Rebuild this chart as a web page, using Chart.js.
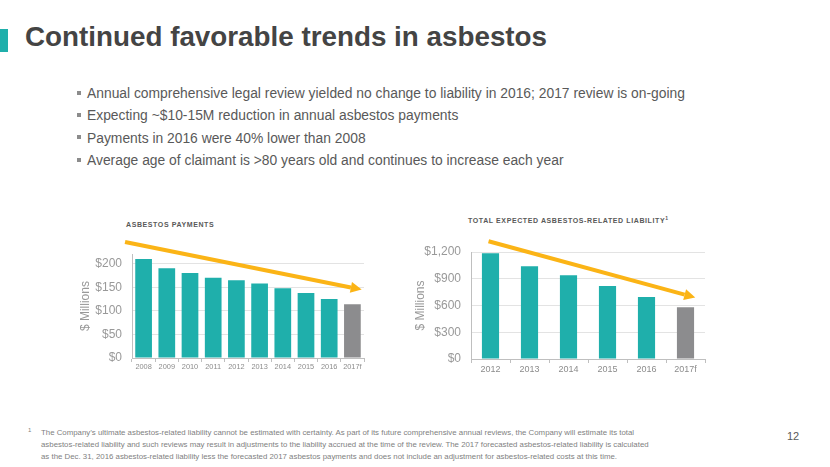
<!DOCTYPE html>
<html lang="en">
  <head>
    <meta charset="UTF-8" />
    <title>Continued favorable trends in asbestos</title>
    <script src="https://cdn.jsdelivr.net/npm/chart.js@4.4.1/dist/chart.umd.min.js"></script>
    <style>
      body {
        margin: 0;
        width: 830px;
        height: 467px;
        position: relative;
        overflow: hidden;
        background: #fff;
        font-family: 'Liberation Sans', Arial, sans-serif;
      }
      #accent {
        position: absolute;
        left: 0;
        top: 29px;
        width: 8px;
        height: 23px;
        background: #1fafab;
      }
      h1 {
        position: absolute;
        left: 25px;
        top: 21px;
        margin: 0;
        font-size: 27.8px;
        font-weight: bold;
        color: #444;
      }
      ul {
        position: absolute;
        left: 77px;
        top: 84px;
        margin: 0;
        padding: 0;
        list-style: none;
        font-size: 13.85px;
        color: #595959;
      }
      ul li {
        height: 22.3px;
        line-height: 18px;
      }
      ul li::before {
        content: '';
        display: inline-block;
        width: 4px;
        height: 4px;
        margin: 0 6px 3px 0;
        vertical-align: middle;
        background: #8c8c8c;
      }
      .ctitle {
        position: absolute;
        font-size: 7px;
        font-weight: bold;
        letter-spacing: 0.6px;
        color: #595959;
      }
      .box {
        position: absolute;
      }
      #footnote {
        position: absolute;
        left: 28px;
        top: 427px;
        white-space: nowrap;
        font-size: 7.85px;
        line-height: 12px;
        color: #7f7f7f;
        padding-left: 13px;
      }
      #footnote sup {
        position: absolute;
        left: 0;
        top: -3px;
        font-size: 6px;
      }
      #page {
        position: absolute;
        left: 787px;
        top: 430px;
        font-size: 11px;
        color: #595959;
      }
    </style>
  </head>
  <body>
    <div id="accent"></div>
    <h1>Continued favorable trends in asbestos</h1>
    <ul>
      <li>Annual comprehensive legal review yielded no change to liability in 2016; 2017 review is on-going</li>
      <li>Expecting ~$10-15M reduction in annual asbestos payments</li>
      <li>Payments in 2016 were 40% lower than 2008</li>
      <li>Average age of claimant is &gt;80 years old and continues to increase each year</li>
    </ul>

    <div class="ctitle" style="left: 126px; top: 221px">ASBESTOS PAYMENTS</div>
    <div class="ctitle" style="left: 468px; top: 215px">TOTAL EXPECTED ASBESTOS-RELATED LIABILITY<sup style="font-size: 5px">1</sup></div>

    <div class="box" style="left: 70px; top: 237px; width: 300px; height: 139px">
      <canvas id="payChart"></canvas>
    </div>
    <div class="box" style="left: 405px; top: 234px; width: 310px; height: 145px">
      <canvas id="liabChart"></canvas>
    </div>

    <div id="footnote">
      <sup>1</sup>The Company’s ultimate asbestos-related liability cannot be estimated with certainty. As part of its future comprehensive annual reviews, the Company will estimate its total<br />
      asbestos-related liability and such reviews may result in adjustments to the liability accrued at the time of the review. The 2017 forecasted asbestos-related liability is calculated<br />
      as the Dec. 31, 2016 asbestos-related liability less the forecasted 2017 asbestos payments and does not include an adjustment for asbestos-related costs at this time.
    </div>
    <div id="page">12</div>

    <script>
      // asbestos payments, $ millions
      const payYears = ['2008', '2009', '2010', '2011', '2012', '2013', '2014', '2015', '2016', '2017f'];
      const payValues = [210, 190, 180, 170, 165, 158, 148, 138, 125, 114];
      const payTicks = [0, 50, 100, 150, 200];
      // trend arrow: [category index, value] start and end
      const payArrow = [[-0.8, 246], [9.4, 145]];

      // total expected liability, $ millions
      const liabYears = ['2012', '2013', '2014', '2015', '2016', '2017f'];
      const liabValues = [1185, 1040, 940, 820, 695, 580];
      const liabTicks = [0, 300, 600, 900, 1200];
      const liabArrow = [[-0.05, 1320], [5.25, 689]];

      const TEAL = '#1fafab';
      const GRAY = '#8c8c8e';
      const ORANGE = '#fbb416';

      const trendArrow = {
        id: 'trendArrow',
        afterDatasetsDraw(chart, args, opts) {
          const { ctx, scales } = chart;
          const x1 = scales.x.getPixelForValue(opts.points[0][0]);
          const y1 = scales.y.getPixelForValue(opts.points[0][1]);
          const x2 = scales.x.getPixelForValue(opts.points[1][0]);
          const y2 = scales.y.getPixelForValue(opts.points[1][1]);
          const ang = Math.atan2(y2 - y1, x2 - x1);
          const head = 11;
          const bx = x2 - head * Math.cos(ang);
          const by = y2 - head * Math.sin(ang);
          ctx.save();
          ctx.strokeStyle = ORANGE;
          ctx.fillStyle = ORANGE;
          ctx.lineWidth = 4;
          ctx.beginPath();
          ctx.moveTo(x1, y1);
          ctx.lineTo(bx, by);
          ctx.stroke();
          ctx.beginPath();
          ctx.moveTo(x2, y2);
          ctx.lineTo(bx + 5.5 * Math.sin(ang), by - 5.5 * Math.cos(ang));
          ctx.lineTo(bx - 5.5 * Math.sin(ang), by + 5.5 * Math.cos(ang));
          ctx.closePath();
          ctx.fill();
          ctx.restore();
        },
      };

      function makeChart(id, labels, values, ticks, max, arrow, cfg) {
        const ctx = document.getElementById(id).getContext('2d');
        return new Chart(ctx, {
          type: 'bar',
          data: {
            labels: labels,
            datasets: [
              {
                data: values,
                backgroundColor: values.map((v, i) => (i === values.length - 1 ? GRAY : TEAL)),
                barPercentage: cfg.barPct,
                categoryPercentage: 1,
              },
            ],
          },
          plugins: [trendArrow],
          options: {
            responsive: true,
            maintainAspectRatio: false,
            animation: false,
            layout: { padding: { top: cfg.top, right: cfg.right, left: 0, bottom: 0 } },
            plugins: {
              legend: { display: false },
              tooltip: { enabled: false },
              trendArrow: { points: arrow },
            },
            scales: {
              x: {
                grid: { drawOnChartArea: false, drawTicks: true, tickLength: 4, color: '#bfbfbf' },
                border: { color: '#bfbfbf' },
                ticks: {
                  color: '#8c8c8c',
                  font: { size: cfg.xFont, family: 'Liberation Sans' },
                  padding: 1,
                  maxRotation: 0,
                  autoSkip: false,
                },
                afterFit: (s) => {
                  s.height = cfg.xHeight;
                },
              },
              y: {
                min: 0,
                max: max,
                grid: { color: '#e3e3e3', drawTicks: false },
                border: { color: '#bfbfbf' },
                afterBuildTicks: (s) => {
                  s.ticks = ticks.map((v) => ({ value: v }));
                },
                ticks: {
                  color: '#999999',
                  padding: 10,
                  font: { size: 12, family: 'Liberation Sans' },
                  callback: (v) => '$' + v.toLocaleString('en-US'),
                },
                title: {
                  display: true,
                  text: '$ Millions',
                  color: '#999999',
                  font: { size: 12, family: 'Liberation Sans' },
                  padding: { top: 8, bottom: 0 },
                },
                afterFit: (s) => {
                  s.width = cfg.yWidth;
                },
              },
            },
          },
        });
      }

      makeChart('payChart', payYears, payValues, payTicks, 220, payArrow, {
        barPct: 0.72,
        top: 16,
        right: 6,
        xFont: 7.4,
        xHeight: 18,
        yWidth: 62,
      });
      makeChart('liabChart', liabYears, liabValues, liabTicks, 1200, liabArrow, {
        barPct: 0.44,
        top: 18,
        right: 10,
        xFont: 9,
        xHeight: 20,
        yWidth: 66,
      });
    </script>
  </body>
</html>
